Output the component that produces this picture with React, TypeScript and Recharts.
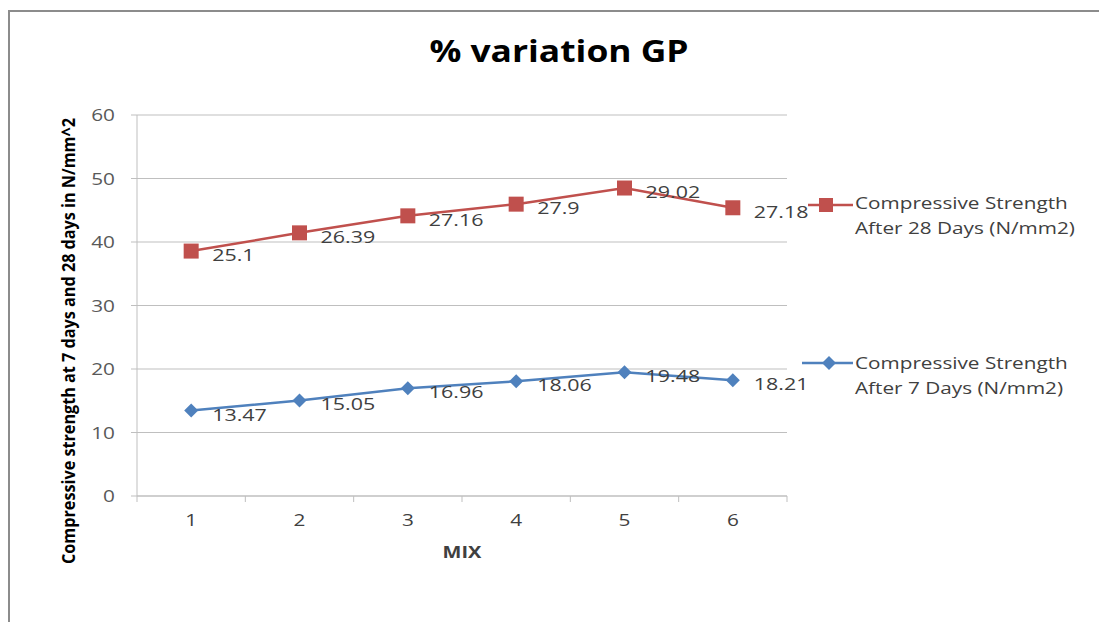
import React from 'react';
import { LineChart, Line, XAxis, YAxis, CartesianGrid, LabelList } from 'recharts';

// mix numbers on the x axis
const mixes = ['1', '2', '3', '4', '5', '6'];
// compressive strength, N/mm2
const strength7 = [13.47, 15.05, 16.96, 18.06, 19.48, 18.21];
const strength28 = [25.1, 26.39, 27.16, 27.9, 29.02, 27.18];
const yTicks = [0, 10, 20, 30, 40, 50, 60];

const name7 = ['Compressive Strength', 'After 7 Days (N/mm2)'];
const name28 = ['Compressive Strength', 'After 28 Days (N/mm2)'];

const RED = '#C0504D';
const BLUE = '#4F81BD';
const GRID = '#BFBFBF';
const TEXT = '#404040';
const FONT = '"Open Sans", "Liberation Sans", sans-serif';

// excel "stacked line": the 28-day series sits on top of the 7-day one
const data = mixes.map((mix, i) => ({
  mix,
  d7: strength7[i],
  d28: strength28[i],
  d28Top: strength7[i] + strength28[i],
}));

const CHART_W = 1091;
const CHART_H = 606;
const BAND = 650 / mixes.length;

// the source picture is stretched sideways, so text gets a horizontal scale
const SText = ({ x, y, sx = 1.3, children, ...rest }: any) => (
  <text
    transform={`translate(${x},${y}) scale(${sx},1)`}
    x={0}
    y={0}
    dominantBaseline="central"
    fontFamily={FONT}
    {...rest}
  >
    {children}
  </text>
);

const SquareDot = (props: any) => {
  const { cx, cy, index } = props;
  return <rect key={`sq-${index}`} x={cx - 7.5} y={cy - 7.5} width={15} height={15} fill={RED} />;
};

const DiamondDot = (props: any) => {
  const { cx, cy, index } = props;
  const r = 7;
  return (
    <polygon
      key={`dm-${index}`}
      points={`${cx},${cy - r} ${cx + r},${cy} ${cx},${cy + r} ${cx - r},${cy}`}
      fill={BLUE}
    />
  );
};

const renderValue = (props: any) => {
  const { x, y, value, index } = props;
  return (
    <SText key={`lbl-${index}`} x={x + 21} y={y + 4} fill={TEXT} fontSize={16.5}>
      {value}
    </SText>
  );
};

const MixTick = (props: any) => {
  const { x, y, payload, index } = props;
  const half = BAND / 2;
  return (
    <g>
      <line x1={x - half} x2={x - half} y1={y} y2={y + 6} stroke={GRID} />
      {index === mixes.length - 1 && (
        <line x1={x + half} x2={x + half} y1={y} y2={y + 6} stroke={GRID} />
      )}
      <SText x={x} y={y + 24} textAnchor="middle" fill={TEXT} fontSize={16}>
        {payload.value}
      </SText>
    </g>
  );
};

const StrengthTick = (props: any) => {
  const { x, y, payload } = props;
  return (
    <SText x={x} y={y} textAnchor="end" fill="#595959" fontSize={16}>
      {payload.value}
    </SText>
  );
};

export default function App() {
  return (
    <div style={{ position: 'relative', width: CHART_W, height: 614, background: '#fff' }}>
      <LineChart
        width={CHART_W}
        height={CHART_H}
        data={data}
        margin={{ top: 107, right: 312, bottom: 88, left: 54 }}
        style={{ position: 'absolute', left: 0, top: 0 }}
      >
        <CartesianGrid vertical={false} stroke={GRID} />
        <XAxis
          dataKey="mix"
          height={30}
          padding={{ left: BAND / 2, right: BAND / 2 }}
          tickLine={false}
          tickSize={0}
          tickMargin={0}
          axisLine={{ stroke: GRID }}
          tick={<MixTick />}
          interval={0}
        />
        <YAxis
          width={75}
          domain={[0, 60]}
          ticks={yTicks}
          tickSize={6}
          tickMargin={16}
          tickLine={{ stroke: GRID }}
          axisLine={{ stroke: GRID }}
          tick={<StrengthTick />}
        />
        <Line
          dataKey="d7"
          stroke={BLUE}
          strokeWidth={2.5}
          dot={<DiamondDot />}
          activeDot={false}
          isAnimationActive={false}
        >
          <LabelList dataKey="d7" content={renderValue} />
        </Line>
        <Line
          dataKey="d28Top"
          stroke={RED}
          strokeWidth={2.5}
          dot={<SquareDot />}
          activeDot={false}
          isAnimationActive={false}
        >
          <LabelList dataKey="d28" content={renderValue} />
        </Line>
      </LineChart>
      {/* frame, title, axis titles and legend, in page coordinates */}
      <svg
        width={1107}
        height={622}
        style={{ position: 'absolute', left: -8, top: -8, pointerEvents: 'none' }}
      >
        <line x1={9} x2={1107} y1={11} y2={11} stroke="#8C8C8C" strokeWidth={2} />
        <line x1={9} x2={9} y1={10} y2={622} stroke="#8C8C8C" strokeWidth={2} />
        <SText x={559} y={51} sx={1.18} textAnchor="middle" fontSize={30} fontWeight="bold" fill="#000">
          % variation GP
        </SText>
        <text
          x={0}
          y={0}
          transform="translate(68,341) scale(1.2,1) rotate(-90)"
          textAnchor="middle"
          dominantBaseline="central"
          fontSize={15}
          fontWeight="bold"
          fontFamily={FONT}
          fill="#000"
          textLength={446}
          lengthAdjust="spacingAndGlyphs"
        >
          Compressive strength at 7 days and 28 days in N/mm^2
        </text>
        <SText x={462} y={552} sx={1.25} textAnchor="middle" fontSize={16} fontWeight="bold" fill={TEXT}>
          MIX
        </SText>
        {/* legend */}
        <g>
          <line x1={808} x2={853} y1={205} y2={205} stroke={RED} strokeWidth={2.5} />
          <rect x={819} y={198} width={14} height={14} fill={RED} />
          {name28.map((t, i) => (
            <SText key={t} x={855} y={203 + i * 25} sx={1.22} fontSize={17} fill={TEXT}>
              {t}
            </SText>
          ))}
        </g>
        <g>
          <line x1={802} x2={853} y1={363} y2={363} stroke={BLUE} strokeWidth={2.5} />
          <polygon points="829,356 836,363 829,370 822,363" fill={BLUE} />
          {name7.map((t, i) => (
            <SText key={t} x={855} y={363 + i * 25} sx={1.22} fontSize={17} fill={TEXT}>
              {t}
            </SText>
          ))}
        </g>
      </svg>
    </div>
  );
}
